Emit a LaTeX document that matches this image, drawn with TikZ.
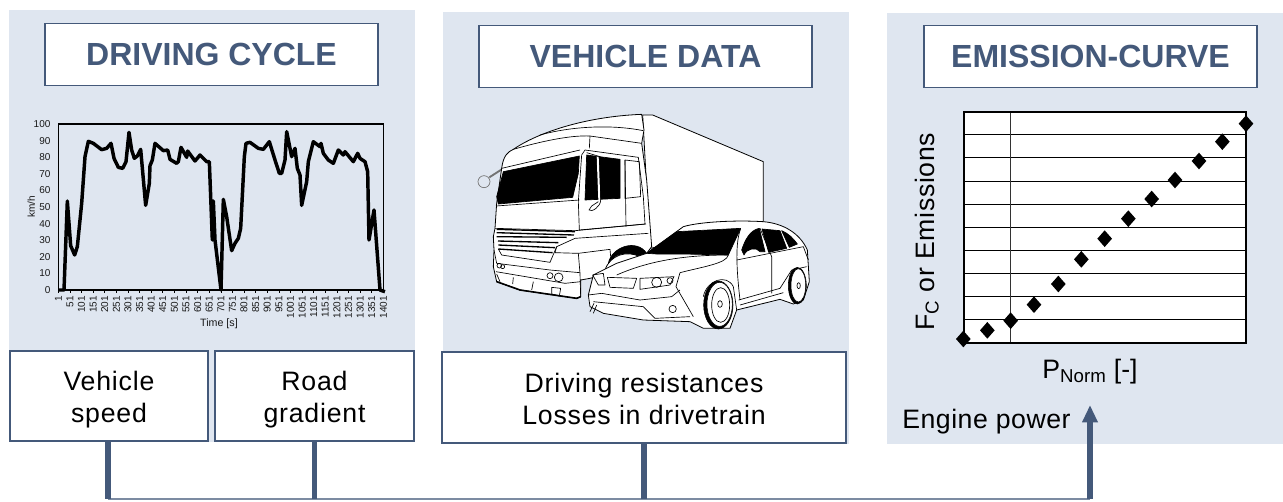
\documentclass[tikz,border=0pt]{standalone}
\usepackage{fontspec}
\setmainfont{Liberation Sans}
\usetikzlibrary{arrows.meta}
\definecolor{panelc}{HTML}{DFE6F0}
\definecolor{bluec}{HTML}{44597A}
\tikzset{
 panel/.style={fill=panelc,draw=none},
 titlebox/.style={draw=bluec,line width=1.3pt,fill=white,minimum width=250pt,minimum height=46.5pt,inner sep=0pt,text=bluec,font=\fontsize{24}{28}\bfseries\selectfont},
 inbox/.style={draw=bluec,line width=1.4pt,fill=white,inner sep=0pt,align=center,font=\fontsize{20}{24}\selectfont\addfontfeatures{LetterSpace=3}},
 thickline/.style={bluec,line width=4pt},
 busline/.style={draw=bluec!70,line width=1.4pt},
 tick/.style={font=\fontsize{7.5}{9}\selectfont,text=black!90,inner sep=0pt},
 grid line/.style={black,line width=0.8pt},
 dmd/.style={fill=black,draw=none},
 veh/.style={draw=black,line width=0.6pt,fill=white,line join=round},
 vehk/.style={draw=black,line width=0.5pt,fill=black,line join=round},
 vehl/.style={draw=black,line width=0.5pt,line join=round},
 vehb/.style={draw=black,line width=1.2pt,line join=round},
}
\begin{document}
\begin{tikzpicture}[x=0.75pt,y=-0.75pt]
\useasboundingbox (0,0) rectangle (1283,501);
\fill[white] (0,0) rectangle (1283,501);
% panels
\path[panel] (9,10) rectangle (415,442);
\path[panel] (443,12) rectangle (849,444);
\path[panel] (887,13) rectangle (1283,444);
% titles
\node[titlebox] (t1) at (211.5,54.5) {DRIVING CYCLE};
\node[titlebox] (t2) at (645.5,56.5) {VEHICLE DATA};
\node[titlebox] (t3) at (1090.5,56.5) {EMISSION-CURVE};
% bottom boxes
\node[inbox,minimum width=148pt,minimum height=67.5pt] (vs) at (109,396) {\rule{0pt}{20.5pt}Vehicle\\speed};
\node[inbox,minimum width=149pt,minimum height=67.5pt] (rg) at (314.5,396) {\rule{0pt}{20.5pt}Road\\gradient};
\node[inbox,minimum width=303pt,minimum height=68pt] (dr) at (644,397.5) {\rule{0pt}{17pt}Driving resistances\\Losses in drivetrain};
% connectors
\coordinate (busa) at (108,499);
\coordinate (busb) at (1090,499);
\coordinate (tip) at (1090,405);
\draw[busline] (busa) -- (busb);
\draw[thickline] (vs.south -| busa) -- (busa);
\draw[thickline] (rg.south) -- (rg.south |- busa);
\draw[thickline] (dr.south) -- (dr.south |- busa);
\draw[thickline,-{Triangle[length=13pt,width=11pt]}] (busb) -- (tip);
\node[font=\fontsize{20}{24}\selectfont\addfontfeatures{LetterSpace=2},anchor=base west,inner sep=0pt] (ep) at (902,428) {Engine power};
% speed chart
\begin{scope}[shift={(0,100)},x=0.25pt,y=-0.25pt]
 \draw[black,line width=1pt] (175,72) rectangle (1150,570);
 \foreach \v [evaluate=\v as \yy using 570-\v*4.98] in {0,10,...,100}
  \node[tick,anchor=east] (yt\v) at (152,\yy) {\v};
 \foreach \v [evaluate=\v as \xx using 175+(\v-1)*0.69643] in {1,51,...,1401}{
  \draw[black,line width=0.5pt] (\xx,570) -- (\xx,580);
  \node[tick,rotate=90,anchor=east] (xt\v) at (\xx,588) {\v};}
 \node[tick,rotate=90] (yl) at (94,320) {km/h};
 \node[tick,font=\fontsize{8}{9}\selectfont] (xl) at (657,670) {Time [s]};
 \draw[black,line width=2.6pt,line join=round]
 (175,570)--(192,570)--(202,303)--(212,437)--(224,465)--(232,440)--(245,310)--(255,170)--(265,124)--(280,130)--(305,149)--(320,145)--(333,130)--(342,175)--(355,202)--(368,205)--(378,185)--(387,97)--(395,150)--(403,175)--(412,168)--(422,148)--(437,316)--(448,250)--(450,197)--(457,180)--(465,130)--(490,152)--(503,150)--(510,178)--(530,190)--(535,185)--(543,142)--(560,172)--(563,153)--(585,183)--(600,165)--(620,185)--(628,185)--(637,420)--(640,303)--(645,420)--(663,570)--(670,298)--(680,350)--(695,452)--(705,430)--(715,415)--(722,385)--(733,170)--(738,130)--(750,127)--(775,145)--(790,148)--(808,125)--(825,180)--(838,220)--(845,220)--(855,180)--(860,95)--(875,170)--(885,145)--(892,205)--(900,225)--(905,316)--(920,245)--(925,185)--(940,125)--(960,140)--(963,130)--(970,160)--(985,180)--(1000,190)--(1015,150)--(1030,165)--(1035,155)--(1060,185)--(1073,160)--(1080,175)--(1095,185)--(1103,215)--(1107,420)--(1122,330)--(1140,570)--(1155,575);
\end{scope}
% vehicles
\begin{scope}[shift={(470,100)},x=0.25pt,y=-0.25pt]
 % mirror
 \draw[black!55,line width=1.4pt] (58,232) -- (100,205);
 \draw[black!55,fill=panelc,line width=0.5pt] (42,245) circle[radius=18];
 % box
 \path[veh] (518,45) -- (548,45) -- (880,185) -- (880,380) -- (540,445) -- cycle;
 % cab
 \path[veh] (95,205) .. controls (100,165) and (115,155) .. (130,148) .. controls (200,100) and (340,50) .. (515,43) -- (522,90) -- (515,130) -- (530,240) -- (545,440) -- (500,500) -- (360,535) -- (332,540) -- (332,590) -- (320,595) -- (150,570) -- (80,545) -- (70,500) -- (72,450) -- (70,410) -- (75,385) -- (80,310) -- cycle;
 \draw[vehl] (130,148) .. controls (210,125) and (300,105) .. (360,108) -- (515,130);
 \draw[vehl] (210,105) .. controls (300,80) and (420,72) .. (520,92);
 \draw[vehl] (95,205) -- (330,150);
 \draw[vehl] (360,108) -- (358,145);
 % windshield
 \path[vehk] (100,215) -- (328,168) -- (325,220) -- (308,292) -- (85,312) -- (80,290) -- cycle;
 \draw[vehl] (78,318) -- (328,300);
 % door
 \draw[vehl] (345,150) -- (505,172) -- (520,290) -- (525,372) -- (328,390) -- (325,305) -- (335,165) -- cycle;
 \path[vehk] (350,165) -- (450,178) -- (450,295) -- (345,300) -- cycle;
 \draw[vehl] (465,180) -- (508,185) -- (512,290) -- (465,295) -- cycle;
 \draw[vehl] (465,180) -- (468,380);
 \draw[white,line width=1.5pt] (383,170) -- (388,300);
 \draw[vehl] (378,170) -- (378,295) (392,170) -- (392,300) .. controls (392,320) and (365,338) .. (357,330) -- (365,318) -- (385,305);
 \draw[vehl] (350,158) -- (390,170);
 % lower body
 \draw[vehl] (75,385) -- (315,392) -- (528,372);
 \foreach \a/\b/\c/\d in {80/388/315/395,80/398/312/405,80/410/290/412,84/423/265/428,85/435/255/443,85/447/248/458}
  \draw[black,line width=1pt] (\a,\b) -- (\c,\d);
 \draw[vehl] (85,447) -- (95,465) -- (240,487) -- (260,440) -- (315,415) -- (535,400);
 \draw[vehl] (260,440) -- (255,458) -- (325,460) -- (420,448) -- (422,470);
 \draw[vehl] (325,460) -- (330,520) -- (332,590);
 \draw[vehl] (72,450) -- (80,490) -- (240,510) -- (330,518);
 \draw[vehl] (78,515) -- (285,550) -- (332,545);
 \draw[vehl] (80,522) -- (90,545) (130,532) -- (128,552) (190,545) -- (185,570) (245,562) -- (272,565) -- (268,588) -- (245,582) -- cycle;
 \draw[vehl] (88,497) circle[radius=7] (98,500) circle[radius=6];
 \draw[vehl] (240,527) circle[radius=9] (266,532) circle[radius=13];
 \draw[vehb] (80,545) -- (150,570) -- (320,595) -- (332,590);
 % wheel arch
 \path[vehk] (415,490) .. controls (425,440) and (500,415) .. (530,460) -- (505,490) .. controls (480,450) and (430,455) .. (422,490) -- cycle;
 \path[veh] (405,510) .. controls (420,465) and (470,450) .. (510,470) -- (440,510) -- cycle;
 % car
 \path[veh] (355,585) -- (370,525) -- (440,490) -- (530,460) -- (640,380) .. controls (690,365) and (800,360) .. (880,365) .. controls (940,370) and (990,400) .. (1012,450) -- (1018,545) -- (1000,600) -- (970,612) -- (930,598) -- (800,630) -- (780,685) -- (700,685) -- (660,665) -- (520,660) -- (400,640) -- (360,620) -- cycle;
 \path[vehk] (530,460) -- (620,395) -- (812,385) -- (775,465) -- (640,462) -- (560,462) -- cycle;
 \draw[vehl] (440,525) .. controls (520,490) and (620,465) .. (775,465);
 \draw[vehl] (775,465) .. controls (770,490) and (700,500) .. (630,518) -- (618,560) -- (670,650);
 \path[vehk] (815,450) .. controls (825,420) and (840,390) .. (868,385) -- (885,455) -- (870,455) .. controls (860,440) and (830,445) .. (822,465) -- cycle;
 \path[vehk] (876,387) -- (930,392) -- (950,445) -- (896,457) -- cycle;
 \path[vehk] (935,392) .. controls (955,400) and (970,415) .. (982,432) -- (958,442) -- cycle;
 \draw[vehl] (812,385) .. controls (800,420) and (795,470) .. (810,600);
 \draw[vehl] (870,385) -- (905,470) -- (905,580);
 \draw[vehl] (800,480) -- (1000,440) -- (1015,480);
 \draw[vehl] (806,600) -- (930,565) -- (965,510) -- (1010,500);
 \draw[vehl] (810,615) -- (940,578);
 \draw[vehl] (700,590) .. controls (710,540) and (770,520) .. (790,560) -- (800,630);
 % car lights
 \draw[vehl] (368,525) -- (400,520) -- (405,555) -- (385,555) -- cycle;
 \draw[vehl] (412,532) -- (500,535) -- (490,565) -- (420,562) -- cycle;
 \draw[vehl] (510,535) -- (612,530) -- (600,555) -- (510,568) -- cycle;
 \draw[vehl] (560,547) circle[radius=15] (600,542) circle[radius=9];
 \draw[vehl] (355,585) -- (395,580) -- (510,600) -- (605,590) -- (630,570);
 \draw[vehl] (370,605) -- (520,620) -- (555,655) -- (660,650);
 \draw[vehl] (360,635) -- (372,610) (370,640) -- (380,615);
 \draw[vehl] (608,627) circle[radius=11];
 % wheels
 \path[draw=black,fill=black] (745,615) ellipse[x radius=44,y radius=72];
 \path[draw=black,fill=white] (749,613) ellipse[x radius=38,y radius=66];
 \draw[vehl] (752,615) ellipse[x radius=27,y radius=52];
 \draw[vehl] (750,612) ellipse[x radius=7,y radius=10];
 \path[draw=black,fill=black] (982,557) ellipse[x radius=27,y radius=55];
 \path[draw=black,fill=white] (985,556) ellipse[x radius=22,y radius=50];
 \draw[vehl] (986,557) ellipse[x radius=5,y radius=9];
\end{scope}
% emission chart
\begin{scope}[shift={(890,100)},x=0.25pt,y=-0.25pt]
 \fill[white] (222,35) rectangle (1067,729);
 \foreach \i in {1,...,9}
  \draw[grid line] (222,35+69.4*\i) -- (1067,35+69.4*\i);
 \draw[black!80,line width=0.7pt] (362,35) -- (362,729);
 \draw[black,line width=1.3pt] (222,35) rectangle (1067,729);
 \foreach \n/\a/\b in {a/220/717,b/292/691,c/362/662,d/432/614,e/505/552,f/574/478,g/644/416,h/715/356,i/785/297,j/855/240,k/927/183,l/997/125,m/1068/71}
  \path[dmd] (\a-22,\b) -- (\a,\b-25) -- (\a+22,\b) -- (\a,\b+25) -- cycle;
 \node[rotate=90,inner sep=0pt,font=\fontsize{20}{24}\selectfont\addfontfeatures{LetterSpace=2.5}] (yax) at (111,395) {F\textsubscript{C} or Emissions};
 \node[inner sep=0pt,font=\fontsize{20}{24}\selectfont] (xax) at (600,815) {P\textsubscript{Norm} [-]};
\end{scope}
\end{tikzpicture}
\end{document}
